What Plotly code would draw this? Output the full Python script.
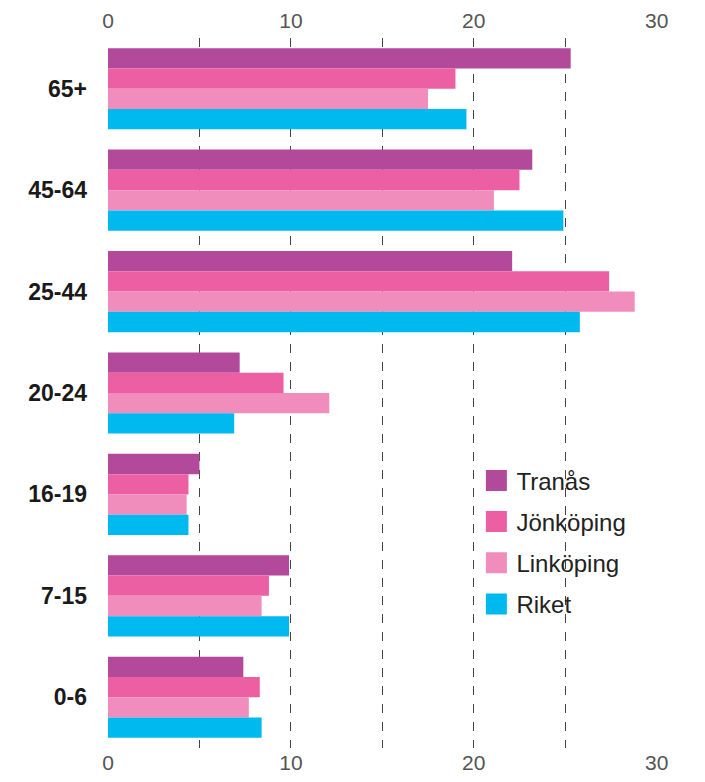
import plotly.graph_objects as go

# age groups, top to bottom
categories = ['65+', '45-64', '25-44', '20-24', '16-19', '7-15', '0-6']

series_names = ['Tranås', 'Jönköping', 'Linköping', 'Riket']
tranas = [25.3, 23.2, 22.1, 7.2, 5.0, 9.9, 7.4]
jonkoping = [19.0, 22.5, 27.4, 9.6, 4.4, 8.8, 8.3]
linkoping = [17.5, 21.1, 28.8, 12.1, 4.3, 8.4, 7.7]
riket = [19.6, 24.9, 25.8, 6.9, 4.4, 9.9, 8.4]

x_ticks = [0, 5, 10, 15, 20, 25, 30]
x_tick_text = ['0', '', '10', '', '20', '', '30']

colors = ['#b2499b', '#ec5fa2', '#f08dbd', '#00b9ef']
values = [tranas, jonkoping, linkoping, riket]

fig = go.Figure()

for name, vals, col in zip(series_names, values, colors):
    fig.add_trace(go.Bar(
        x=vals, y=categories, orientation='h', name=name,
        marker=dict(color=col, line=dict(width=0)),
        showlegend=False))

# legend entries with bigger square markers
for name, col in zip(series_names, colors):
    fig.add_trace(go.Scatter(
        x=[None], y=[None], mode='markers', name=name, legendgroup=name,
        marker=dict(symbol='square', size=16, color=col,
                    line=dict(color=col, width=5))))

# invisible trace so the top axis gets drawn
fig.add_trace(go.Scatter(x=[0, 30], y=[categories[0], categories[0]], xaxis='x2',
                         mode='markers', marker=dict(opacity=0), showlegend=False,
                         hoverinfo='skip'))

tick_font = dict(family='Liberation Sans, Arial', size=21, color='#555555')
axis_common = dict(
    range=[0, 30.02], tickvals=x_ticks, ticktext=x_tick_text,
    showgrid=True, gridcolor='#444444', griddash='dash', gridwidth=1,
    zeroline=False, showline=False, ticks='', automargin=False,
    tickfont=tick_font)

# page adds an 8px body margin, so margins are shifted to compensate
fig.update_layout(
    width=705, height=782,
    margin=dict(l=100, r=56, t=30, b=42),
    paper_bgcolor='white', plot_bgcolor='white',
    barmode='group', bargap=0.2, bargroupgap=0,
    xaxis=dict(side='bottom', **axis_common),
    xaxis2=dict(side='top', overlaying='x', matches='x', ticklabelstandoff=5,
                **axis_common),
    yaxis=dict(autorange='reversed', showgrid=False, zeroline=False, ticks='',
               ticklabelstandoff=20, automargin=False,
               tickfont=dict(family='Liberation Sans, Arial', size=23, color='#1a1a1a',
                             weight='bold')),
    legend=dict(x=0.671, y=0.408, xanchor='left', yanchor='top',
                bgcolor='rgba(255,255,255,0)', tracegroupgap=7,
                font=dict(family='Liberation Sans, Arial', size=24, color='#222222')),
    showlegend=True,
)

fig.write_html("out.html")
